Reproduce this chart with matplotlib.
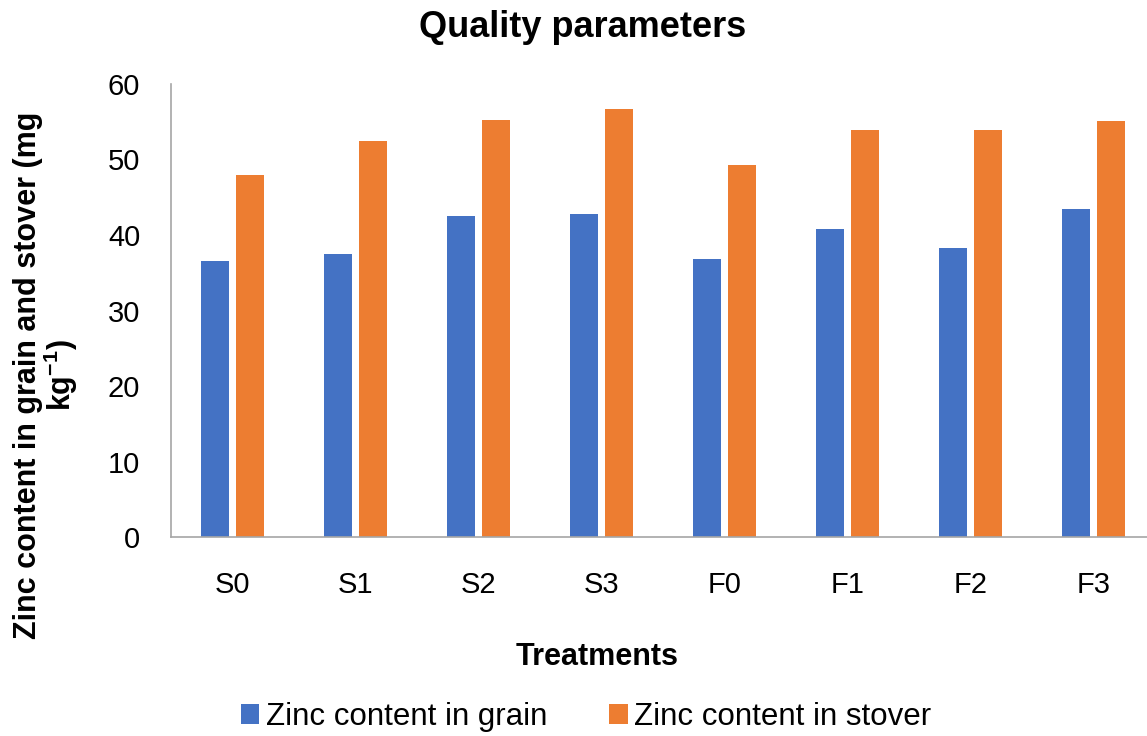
import numpy as np
import matplotlib
matplotlib.use("Agg")
import matplotlib.pyplot as plt

plt.rcParams['font.family'] = ['Liberation Sans', 'DejaVu Sans']
plt.rcParams['mathtext.fontset'] = 'custom'
plt.rcParams['mathtext.rm'] = 'Liberation Sans:bold'
plt.rcParams['mathtext.bf'] = 'Liberation Sans:bold'

# data
treatments = ['S0', 'S1', 'S2', 'S3', 'F0', 'F1', 'F2', 'F3']
zinc_grain = [36.6, 37.5, 42.5, 42.8, 36.8, 40.8, 38.3, 43.4]
zinc_stover = [47.9, 52.5, 55.2, 56.7, 49.3, 53.9, 53.9, 55.1]

blue = '#4472C4'
orange = '#ED7D31'
axis_grey = '#A6A6A6'

fig = plt.figure(figsize=(11.47, 7.36), dpi=100)
# plot area runs slightly past the right edge, as in the reference
ax = fig.add_axes([0.149, 0.270, 0.858, 0.616])

x = np.arange(len(treatments))
w = 0.224
gap = 0.061
ax.bar(x - (w + gap) / 2, zinc_grain, width=w, color=blue, label='Zinc content in grain')
ax.bar(x + (w + gap) / 2, zinc_stover, width=w, color=orange, label='Zinc content in stover')

ax.set_xlim(-0.5, len(treatments) - 0.5)
ax.set_ylim(0, 60)
ax.set_yticks(range(0, 61, 10))
ax.set_xticks(x)
ax.set_xticklabels(treatments)

ax.tick_params(axis='both', length=0, labelsize=21)
ax.tick_params(axis='x', pad=24)
ax.tick_params(axis='y', pad=22)

for s in ['top', 'right']:
    ax.spines[s].set_visible(False)
for s in ['left', 'bottom']:
    ax.spines[s].set_color(axis_grey)
    ax.spines[s].set_linewidth(1.2)

fig.text(0.508, 0.962, 'Quality parameters', ha='center', va='center',
         fontsize=26, fontweight='bold')

fig.text(0.521, 0.107, 'Treatments', ha='center', va='center',
         fontsize=22, fontweight='bold')

fig.text(0.024, 0.49, 'Zinc content in grain and stover (mg', rotation=90,
         ha='center', va='center', fontsize=22, fontweight='bold')
fig.text(0.053, 0.49, r'kg$^{-1}$)', rotation=90,
         ha='center', va='center', fontsize=22, fontweight='bold')

fig.legend(loc='center', bbox_to_anchor=(0.511, 0.026), ncol=2, frameon=False,
           fontsize=22.5, handlelength=0.6, handleheight=0.6, handletextpad=0.2,
           columnspacing=2.0)

fig.savefig('out.png', dpi=100)
